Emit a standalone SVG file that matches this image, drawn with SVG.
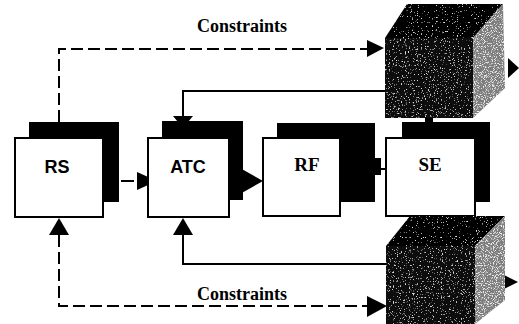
<svg xmlns="http://www.w3.org/2000/svg" width="519" height="324" viewBox="0 0 519 324">
<style>
.shadow{fill:#000}
.front{fill:#fff;stroke:#000;stroke-width:2}
.sans{font-family:"Liberation Sans",Arial,sans-serif;font-weight:bold;font-size:18px;text-anchor:middle;fill:#000}
.serif{font-family:"Liberation Serif","Times New Roman",serif;font-weight:bold;font-size:19px;text-anchor:middle;fill:#000}
.lbl{font-family:"Liberation Serif","Times New Roman",serif;font-weight:bold;font-size:18px;fill:#000}
.dash{fill:none;stroke:#000;stroke-width:2;stroke-dasharray:12 5}
.solid{fill:none;stroke:#000;stroke-width:2}
.head{fill:#000}
</style>
<defs>
<filter id="nDark" x="0" y="0" width="100%" height="100%">
<feTurbulence type="fractalNoise" baseFrequency="0.75" numOctaves="2" seed="4" result="n"/>
<feColorMatrix in="n" type="matrix" values="0 0 0 0 0.7  0 0 0 0 0.7  0 0 0 0 0.7  7 0 0 0 -4.4" result="s"/>
<feComposite in="s" in2="SourceAlpha" operator="in" result="s2"/>
<feMerge><feMergeNode in="SourceGraphic"/><feMergeNode in="s2"/></feMerge>
</filter>
<filter id="nLight" x="0" y="0" width="100%" height="100%">
<feTurbulence type="fractalNoise" baseFrequency="0.9" numOctaves="2" seed="7" result="n"/>
<feColorMatrix in="n" type="matrix" values="0 0 0 0 0.85  0 0 0 0 0.85  0 0 0 0 0.85  6 0 0 0 -3.1" result="s"/>
<feComposite in="s" in2="SourceAlpha" operator="in" result="s2"/>
<feMerge><feMergeNode in="SourceGraphic"/><feMergeNode in="s2"/></feMerge>
</filter>
<filter id="nTop" x="0" y="0" width="100%" height="100%">
<feTurbulence type="fractalNoise" baseFrequency="0.8" numOctaves="2" seed="2" result="n"/>
<feColorMatrix in="n" type="matrix" values="0 0 0 0 0.8  0 0 0 0 0.8  0 0 0 0 0.8  8 0 0 0 -5.4" result="s"/>
<feComposite in="s" in2="SourceAlpha" operator="in" result="s2"/>
<feMerge><feMergeNode in="SourceGraphic"/><feMergeNode in="s2"/></feMerge>
</filter>
</defs>
<rect width="519" height="324" fill="#fff"/>

<g id="connectors">
<path class="dash" d="M59,122 V49 H367"/>
<polygon class="head" points="367,40 384,48 367,57"/>
<polygon class="head" points="55,138 63,138 59,144"/>
<path class="dash" d="M59,235 V306 H367"/>
<polygon class="head" points="367,296 387,306 367,317"/>
<polygon class="head" points="49,235 69,235 59,218"/>
<path class="solid" d="M183,235 V264 H386"/>
<polygon class="head" points="173,235 193,235 183,218"/>
<path class="solid" d="M386,91 H183 V116"/>
<polygon class="head" points="173,116 193,116 183,128"/>
<line class="solid" x1="121" y1="181" x2="134" y2="181"/>
<polygon class="head" points="137,172 157,181 137,190"/>
<polygon class="head" points="240,168 263,181 240,194"/>
<rect class="head" x="375" y="158" width="6" height="17"/>
<line class="solid" x1="375" y1="169" x2="386" y2="169"/>
<rect class="head" x="425" y="117" width="8" height="6"/>
<polygon class="head" points="508,58 519,68 508,78"/>
<polygon class="head" points="498,272 518,282 498,292"/>
</g>

<g id="node-RS">
<rect class="shadow" x="29" y="122" width="90" height="80"/>
<rect class="front" x="15" y="138" width="88" height="79"/>
<text class="sans" x="57" y="173">RS</text>
</g>
<g id="node-ATC">
<rect class="shadow" x="162" y="121" width="81" height="79"/>
<rect class="front" x="148" y="138" width="81" height="79"/>
<text class="sans" x="188" y="173">ATC</text>
</g>
<g id="node-RF">
<rect class="shadow" x="277" y="123" width="98" height="79"/>
<rect class="front" x="263" y="138" width="77" height="78"/>
<text class="serif" x="307" y="171">RF</text>
</g>
<g id="node-SE">
<rect class="shadow" x="402" y="122" width="88" height="80"/>
<rect class="front" x="386" y="138" width="89" height="78"/>
<text class="serif" x="430" y="171">SE</text>
</g>

<g id="cube-top">
<polygon fill="#050505" filter="url(#nTop)" points="385,38 407,4 503,4 473,38"/>
<polygon fill="#7d7d7d" filter="url(#nLight)" points="473,38 503,4 505,88 473,118"/>
<rect fill="#111" filter="url(#nDark)" x="385" y="38" width="88" height="80"/>
</g>
<g id="cube-bottom">
<polygon fill="#050505" filter="url(#nTop)" points="386,246 410,216 505,216 475,246"/>
<polygon fill="#7d7d7d" filter="url(#nLight)" points="475,246 505,216 505,300 475,324"/>
<rect fill="#111" filter="url(#nDark)" x="386" y="246" width="89" height="78"/>
</g>

<text class="lbl" x="197" y="32">Constraints</text>
<text class="lbl" x="197" y="300">Constraints</text>
</svg>
